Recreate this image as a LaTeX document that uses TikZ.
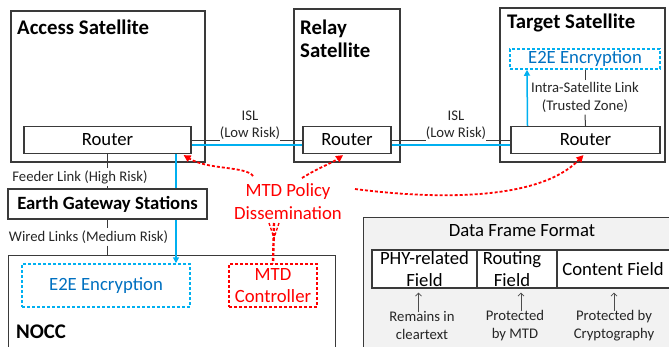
\documentclass[tikz,border=0pt]{standalone}
\usepackage{fontspec}
\setmainfont{Carlito}
\usetikzlibrary{arrows.meta}
\definecolor{skyc}{HTML}{00B0F0}
\definecolor{e2eblue}{HTML}{0070C0}
\definecolor{mtdred}{HTML}{FF0000}
\definecolor{framegray}{HTML}{F2F2F2}
\definecolor{edgegray}{HTML}{3A3A3A}
\newcommand\mainsize{\fontsize{18.7}{22.5}\selectfont}
\newcommand\titlesize{\fontsize{20.8}{22.5}\selectfont}
\newcommand\smallsize{\fontsize{14.7}{17.5}\selectfont}
\tikzset{
  box/.style={draw=edgegray, line width=1.2pt, inner sep=0pt},
  routerbox/.style={box, fill=white, minimum height=27pt, font=\mainsize},
  e2ebox/.style={draw=skyc, line width=1.5pt, dash pattern=on 3pt off 2pt, text=e2eblue, font=\mainsize, inner sep=0pt},
  mtdbox/.style={draw=mtdred, line width=1.5pt, dash pattern=on 3pt off 2pt, text=mtdred, font=\mainsize, inner sep=0pt, align=center},
  lbl/.style={font=\smallsize, inner sep=0pt, align=center, text=black!85},
  titlelbl/.style={font=\titlesize\bfseries, inner sep=0pt, anchor=west, align=left},
  cyanlink/.style={draw=skyc, line width=1.5pt},
  blacklink/.style={draw=edgegray, line width=1pt},
  mtdarrow/.style={draw=mtdred, line width=1.8pt, dash pattern=on 3pt off 2pt, -{Triangle[length=7pt,width=7pt]}},
  mtddash/.style={draw=mtdred, line width=1.8pt, dash pattern=on 3pt off 2pt},
  uparrow/.style={draw=black!70, line width=0.8pt, -{Straight Barb[length=3pt,width=6pt]}},
  fieldtext/.style={font=\mainsize, inner sep=0pt, align=center}
}
\begin{document}
\begin{tikzpicture}[x=1pt,y=-1pt]
\useasboundingbox (0,0) rectangle (669,346);
\clip (0,0) rectangle (669,346);

% satellites
\node[box, minimum width=194pt, minimum height=151pt] (accsat) at (108,86.5) {};
\node[box, minimum width=106pt, minimum height=153pt] (relsat) at (347,85.5) {};
\node[box, minimum width=165pt, minimum height=154pt] (tarsat) at (582.5,85) {};
\node[titlelbl] (acct) at (17,27) {Access Satellite};
\node[titlelbl] (relt) at (300,39) {Relay\\Satellite};
\node[titlelbl] (tart) at (507,23) {Target Satellite};

% routers
\node[routerbox, minimum width=167pt] (ar) at (107.5,140) {Router};
\node[routerbox, minimum width=88pt] (rr) at (347,140) {Router};
\node[routerbox, minimum width=149pt] (tr) at (585.5,140) {Router};
\node[e2ebox, minimum width=150pt, minimum height=20pt] (te) at (585,59) {E2E Encryption};

% ISL links
\node[lbl, anchor=south] (isl1) at (250,140) {ISL\\(Low Risk)};
\node[lbl, anchor=south] (isl2) at (456,140) {ISL\\(Low Risk)};
\draw[blacklink] (ar.east) -- (isl1.south west);
\draw[blacklink] (isl1.south east) -- (rr.west);
\draw[blacklink] (rr.east) -- (isl2.south west);
\draw[blacklink] (isl2.south east) -- (tr.west);
\draw[cyanlink] ([yshift=-5pt]ar.east) -- ([yshift=-5pt]rr.west);
\draw[cyanlink] ([yshift=-5pt]rr.east) -- ([yshift=-5pt]tr.west);

% intra-satellite link
\node[lbl, inner sep=2pt] (intra) at (585,97.5) {Intra-Satellite Link\\(Trusted Zone)};
\draw[blacklink] (te.south) -- (intra.north);
\draw[blacklink] (intra.south) -- (tr.north);
\draw[cyanlink, -{Triangle[length=6pt,width=6pt]}] ([xshift=-58pt]tr.north) -- ([xshift=-58pt]te.south);

% NOCC
\node[box, minimum width=327pt, minimum height=110pt, anchor=north west] (nocc) at (8,255) {};
\node[titlelbl] (noccl) at (16,332) {NOCC};
\node[e2ebox, minimum width=168pt, minimum height=43pt] (ne) at (106,285.5) {E2E Encryption};
\node[mtdbox, minimum width=88pt, minimum height=43pt] (mc) at (273,285.5) {MTD\\Controller};

% cyan path to NOCC (behind gateway box)
\draw[cyanlink, -{Triangle[length=6pt,width=6pt]}] ([xshift=68.5pt]ar.south) -- ([xshift=70pt]ne.north);

% gateway
\node[box, fill=white, minimum width=199pt, minimum height=30pt, font=\mainsize\bfseries] (gw) at (107.5,204) {Earth Gateway Stations};
\node[lbl, inner sep=2pt] (fl) at (80,177) {Feeder Link (High Risk)};
\node[lbl, inner sep=2pt] (wl) at (88.5,237) {Wired Links (Medium Risk)};
\draw[blacklink] (ar.south) -- (ar.south |- fl.north);
\draw[blacklink] (gw.north |- fl.south) -- (gw.north);
\draw[blacklink] (gw.south) -- (gw.south |- wl.north);
\draw[blacklink] (gw.south |- wl.south) -- (nocc.north -| gw.south);

% MTD policy dissemination
\node[font=\mainsize, text=mtdred, align=center, inner sep=1pt] (mpd) at (288,201.5) {MTD Policy\\Dissemination};
\coordinate (m1) at (253,176);
\coordinate (m2) at (302,178);
\coordinate (m3) at (355,189);
\draw[mtdarrow] (m1) .. controls (246,166) and (208,170) .. ([xshift=-8pt,yshift=-1pt]ar.south east);
\draw[mtdarrow] (m2) .. controls (318,168) and (332,163) .. ([xshift=-4pt,yshift=-1pt]rr.south);
\draw[mtdarrow] (m3) .. controls (440,200) and (540,200) .. ([xshift=-2pt,yshift=-1pt]tr.south);
\coordinate (m4) at (274,223);
\coordinate (m5) at (269,223);
\coordinate (m6) at (279,223);
\coordinate (m7) at (274,238);
\draw[mtddash, line width=2.4pt] (m4) -- (mc.north);
\draw[mtddash, line width=1.4pt] (m5) -- (m7);
\draw[mtddash, line width=1.4pt] (m6) -- (m7);

% data frame format
\node[box, fill=framegray, anchor=north west, minimum width=330pt, minimum height=150pt] (dff) at (363,217) {};
\node[font=\mainsize, inner sep=0pt] (dfft) at (522,231) {Data Frame Format};
\node[box, fill=white, minimum width=105pt, minimum height=38pt] (phy) at (424.5,269) {};
\node[box, fill=white, minimum width=80pt, minimum height=38pt] (rout) at (517,269) {};
\node[box, fill=white, minimum width=120pt, minimum height=38pt, anchor=west] (cont) at (557,269) {};
\node[fieldtext] (phyt) at (424.5,269) {PHY-related\\Field};
\node[fieldtext] (routt) at (512,269) {Routing\\Field};
\node[fieldtext] (contt) at (613,269) {Content Field};
\node[lbl] (rem) at (422,325.5) {Remains in\\cleartext};
\node[lbl] (pmtd) at (515,325.5) {Protected\\by MTD};
\node[lbl] (pcry) at (614,325.5) {Protected by\\Cryptography};
\draw[uparrow] ([xshift=-6pt,yshift=-1pt]phy.south |- rem.north) -- ([xshift=-6pt,yshift=-4pt]phy.south);
\draw[uparrow] ([xshift=4pt,yshift=-1pt]rout.south |- pmtd.north) -- ([xshift=4pt,yshift=-4pt]rout.south);
\draw[uparrow] ([yshift=-1pt]pcry.north) -- ([yshift=-4pt]pcry.north |- cont.south);
\end{tikzpicture}
\end{document}
